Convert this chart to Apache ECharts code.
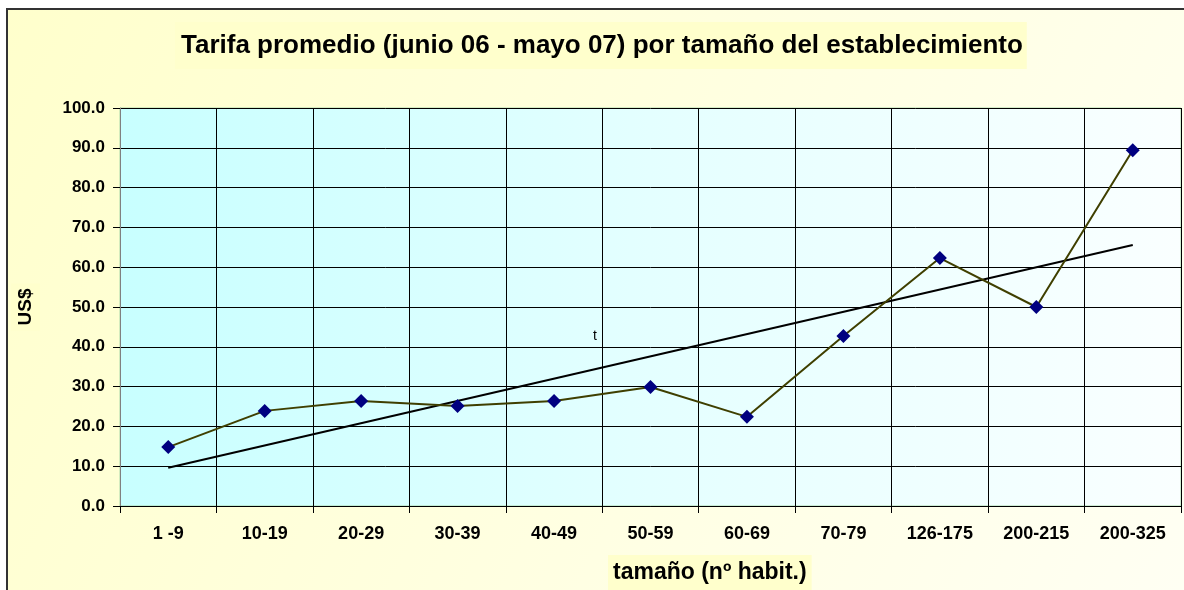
<!DOCTYPE html>
<html>
  <head>
    <meta charset="UTF-8">
    <title>Tarifa promedio</title>
    <script src="https://cdn.jsdelivr.net/npm/echarts@6/dist/echarts.min.js"></script>
    <style>
      html, body { margin: 0; padding: 0; background: #ffffff; }
      #main { width: 1184px; height: 590px; }
    </style>
  </head>
  <body>
    <div id="main"></div>
    <script type="text/javascript">
      // categorias (tamaño en nº habitaciones)
      var categorias = ['1 -9', '10-19', '20-29', '30-39', '40-49', '50-59', '60-69', '70-79', '126-175', '200-215', '200-325'];
      // tarifa promedio US$
      var tarifas = [14.8, 23.9, 26.4, 25.1, 26.4, 29.9, 22.4, 42.7, 62.3, 50.0, 89.4];
      // linea de tendencia: [indice categoria, valor]
      var tendencia = [[0, 9.6], [10, 65.6]];
      var ejeY = { min: 0, max: 100, interval: 10 };

      var chart = echarts.init(document.getElementById('main'));
      var fuente = '"Liberation Sans", Arial, sans-serif';

      chart.setOption({
        animation: false,
        backgroundColor: '#ffffff',
        graphic: [
          {
            type: 'rect',
            z: -10,
            silent: true,
            shape: { x: 7, y: 9, width: 1200, height: 600 },
            style: {
              fill: new echarts.graphic.LinearGradient(0, 0, 1, 1, [
                { offset: 0, color: '#FFFFCC' },
                { offset: 1, color: '#FFFFF4' }
              ]),
              stroke: '#333333',
              lineWidth: 2
            }
          },
          {
            type: 'text',
            left: 608,
            top: 555,
            z: 10,
            style: {
              text: 'tamaño (nº habit.)',
              font: 'bold 23px ' + fuente,
              fill: '#000000',
              backgroundColor: '#FFFFCC',
              padding: [6, 5, 8, 5]
            }
          },
          {
            type: 'text',
            left: 593,
            top: 329,
            z: 10,
            style: {
              text: 't',
              font: '14px ' + fuente,
              fill: '#000000'
            }
          }
        ],
        title: {
          text: 'Tarifa promedio (junio 06 - mayo 07) por tamaño del establecimiento',
          left: 175,
          top: 22,
          padding: [11, 4, 10, 6],
          backgroundColor: '#FFFFCC',
          textStyle: {
            fontFamily: fuente,
            fontWeight: 'bold',
            fontSize: 26,
            color: '#000000'
          }
        },
        grid: {
          left: 120,
          top: 108,
          right: 3,
          bottom: 84,
          show: true,
          borderColor: '#A8D8A8',
          borderWidth: 1,
          backgroundColor: new echarts.graphic.LinearGradient(0, 0, 1, 0, [
            { offset: 0, color: '#C8FFFF' },
            { offset: 0.5, color: '#E4FFFF' },
            { offset: 1, color: '#FAFFFF' }
          ])
        },
        xAxis: {
          type: 'category',
          data: categorias,
          boundaryGap: true,
          axisLine: { show: true, lineStyle: { color: '#000000', width: 1 } },
          axisTick: { show: true, length: 7, lineStyle: { color: '#000000' } },
          splitLine: { show: true, lineStyle: { color: '#000000', width: 1 } },
          axisLabel: {
            margin: 19,
            fontFamily: fuente,
            fontWeight: 'bold',
            fontSize: 18,
            color: '#000000'
          }
        },
        yAxis: {
          type: 'value',
          min: ejeY.min,
          max: ejeY.max,
          interval: ejeY.interval,
          name: 'US$',
          nameLocation: 'middle',
          nameGap: 80,
          nameRotate: 90,
          nameTextStyle: {
            fontFamily: fuente,
            fontWeight: 'bold',
            fontSize: 19,
            color: '#000000',
            backgroundColor: '#FFFFCC',
            padding: [5, 5, 5, 5]
          },
          axisLine: { show: true, lineStyle: { color: '#808080', width: 1 } },
          axisTick: { show: true, length: 7, lineStyle: { color: '#000000' } },
          splitLine: { show: true, lineStyle: { color: '#000000', width: 1 } },
          axisLabel: {
            margin: 15,
            fontFamily: fuente,
            fontWeight: 'bold',
            fontSize: 17,
            color: '#000000',
            formatter: function (v) { return v.toFixed(1); }
          }
        },
        series: [
          {
            name: 'Tarifa',
            type: 'line',
            data: tarifas,
            symbol: 'diamond',
            symbolSize: 14,
            lineStyle: { color: '#3F3F00', width: 2 },
            itemStyle: { color: '#000080' },
            z: 5
          },
          {
            name: 'Tendencia',
            type: 'line',
            data: tendencia,
            symbol: 'none',
            lineStyle: { color: '#000000', width: 2 },
            z: 4
          }
        ]
      });
    </script>
  </body>
</html>
